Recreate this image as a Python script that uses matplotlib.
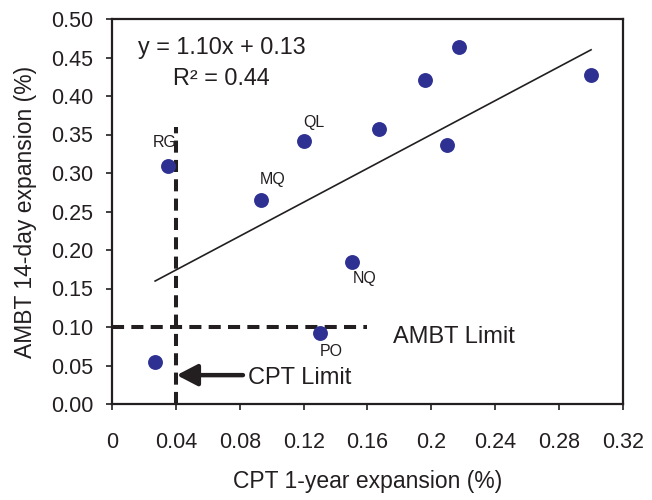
import matplotlib
matplotlib.use("Agg")
import matplotlib.pyplot as plt
import numpy as np

plt.rcParams['font.family'] = ['Liberation Sans', 'DejaVu Sans']

cpt = [0.027, 0.035, 0.093, 0.120, 0.167, 0.130, 0.150, 0.196, 0.217, 0.210, 0.300]
ambt = [0.055, 0.309, 0.265, 0.342, 0.357, 0.092, 0.185, 0.421, 0.464, 0.337, 0.427]
slope, intercept = 1.10, 0.13
cpt_limit = 0.04
ambt_limit = 0.10

xticks = [0, 0.04, 0.08, 0.12, 0.16, 0.2, 0.24, 0.28, 0.32]
xticklabels = ["0", "0.04", "0.08", "0.12", "0.16", "0.2", "0.24", "0.28", "0.32"]
yticks = [0.0, 0.05, 0.10, 0.15, 0.20, 0.25, 0.30, 0.35, 0.40, 0.45, 0.50]

fig = plt.figure(figsize=(6.52, 5.0), dpi=100)
ax = fig.add_axes([0.1718, 0.192, 0.7837, 0.77])

frame = '#231f20'
dot = '#2e3192'

ax.scatter(cpt, ambt, s=115, color=dot, zorder=4, linewidths=0)

xs = np.array([min(cpt), max(cpt)])
ax.plot(xs, slope * xs + intercept, color=frame, lw=1.2, zorder=3)

ax.plot([cpt_limit, cpt_limit], [0, 0.36], color=frame, lw=2.9,
        linestyle=(0, (3.0, 1.8)), zorder=2)
ax.plot([0, 0.16], [ambt_limit, ambt_limit], color=frame, lw=2.9,
        linestyle=(0, (3.0, 1.8)), zorder=2)

ax.annotate("", xy=(0.0405, 0.0375), xytext=(0.082, 0.0375),
            arrowprops=dict(arrowstyle="-|>,head_length=1.25,head_width=0.65",
                            color=frame, lw=3.2, shrinkA=0, shrinkB=0))
ax.text(0.0852, 0.0335, "CPT Limit", fontsize=17, va='center', ha='left', color=frame)
ax.text(0.176, 0.0874, "AMBT Limit", fontsize=17, va='center', ha='left', color=frame)

ax.text(0.0162, 0.4625, "y = 1.10x + 0.13", fontsize=16.8, va='center', ha='left', color=frame)
ax.text(0.0385, 0.4225, "R² = 0.44", fontsize=16.8, va='center', ha='left', color=frame)

label_pos = {"RG": (0.0332, 0.339), "QL": (0.1265, 0.366), "MQ": (0.1008, 0.291),
             "NQ": (0.1584, 0.1636), "PO": (0.137, 0.0688)}
for name, (lx, ly) in label_pos.items():
    ax.text(lx, ly, name, fontsize=11.5, ha='center', va='center', color=frame)

ax.set_xlim(0, 0.32)
ax.set_ylim(0, 0.5)
ax.set_xticks(xticks)
ax.set_xticklabels(xticklabels)
ax.set_yticks(yticks)
ax.set_yticklabels([f"{v:.2f}" for v in yticks])
ax.tick_params(direction='out', length=4.5, width=1.2, colors=frame, labelsize=15.5)
ax.tick_params(axis='y', pad=9)
ax.tick_params(axis='x', pad=16)
for s in ax.spines.values():
    s.set_linewidth(1.6)
    s.set_color(frame)

ax.set_xlabel("CPT 1-year expansion (%)", fontsize=16.5, color=frame, labelpad=12)
ax.set_ylabel("AMBT 14-day expansion (%)", fontsize=16.5, color=frame, labelpad=10)

fig.savefig("out.png", dpi=100)
